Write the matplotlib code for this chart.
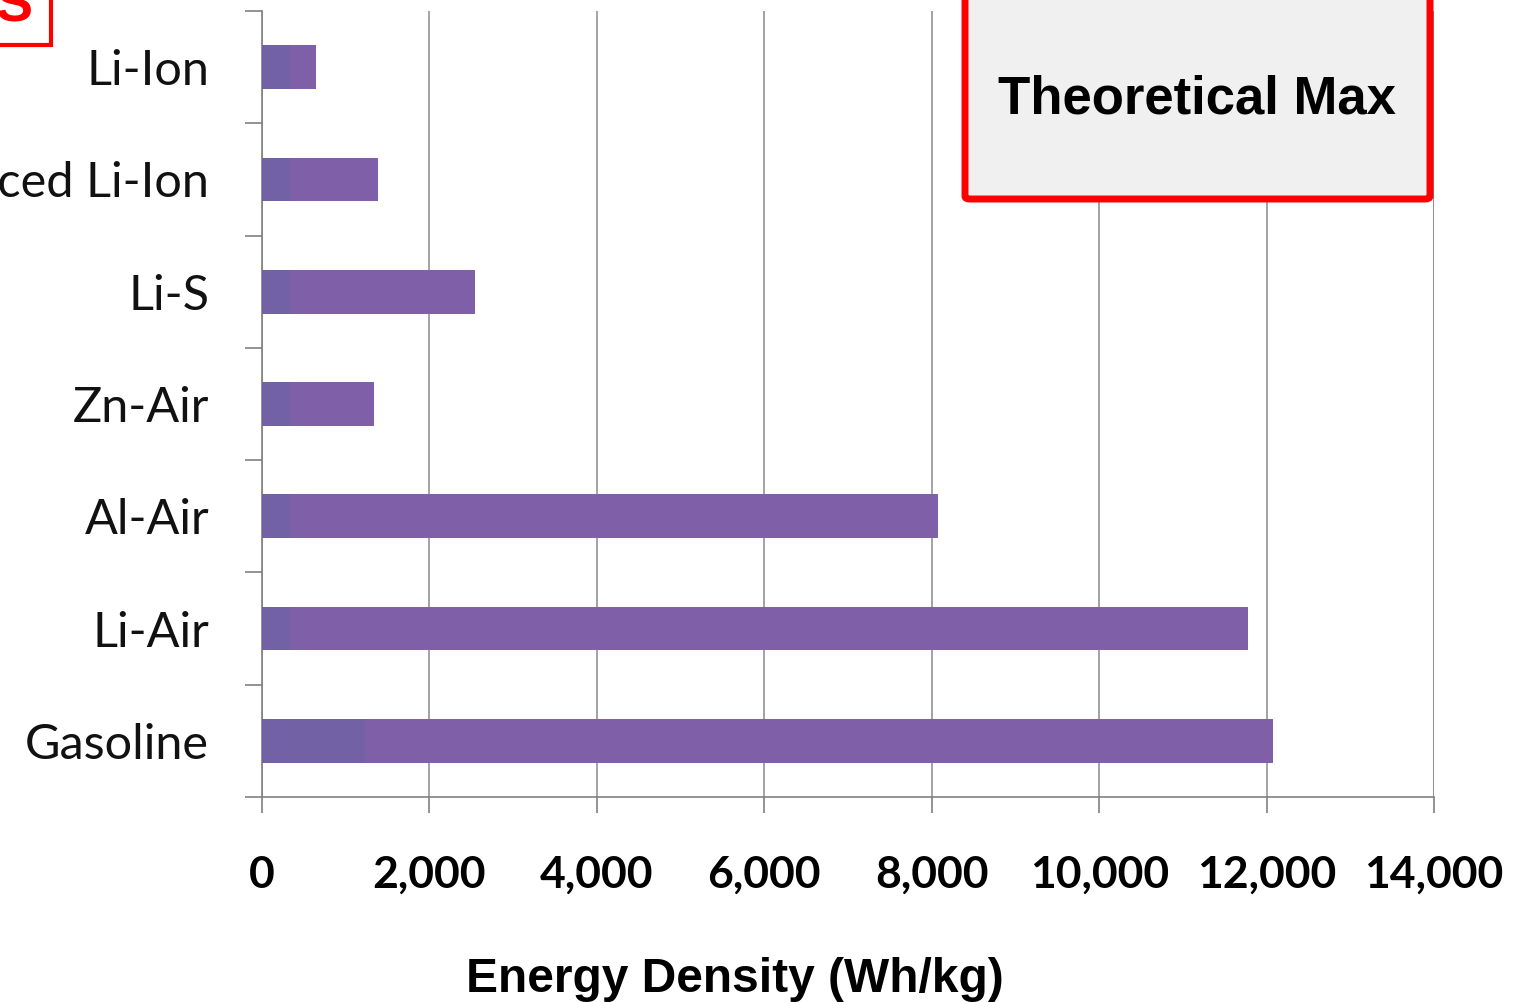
import matplotlib.pyplot as plt
from matplotlib.patches import FancyBboxPatch, Rectangle
import numpy as np

# === Daten ===
categories = ["Li-Ion", "Advanced Li-Ion", "Li-S", "Zn-Air", "Al-Air", "Li-Air", "Gasoline"]
theoretical_max = [650, 1390, 2550, 1340, 8080, 11780, 12080]
# faded overlay left over on the left end of each bar
practical = [330, 330, 330, 330, 330, 330, 1230]
x_ticks = [0, 2000, 4000, 6000, 8000, 10000, 12000, 14000]

W, H = 1523, 1002
fig = plt.figure(figsize=(W / 100, H / 100), dpi=100)
fig.patch.set_facecolor("white")

ax = fig.add_axes([262 / W, 1 - 797 / H, (1434 - 262) / W, (797 - 11) / H])
ypos = np.arange(len(categories))

ax.barh(ypos, theoretical_max, height=0.39, color="#7e5fa8", zorder=3)
ax.barh(ypos, practical, height=0.39, color="#7262a5", zorder=4)

ax.set_xlim(0, 14000)
ax.set_ylim(len(categories) - 0.5, -0.5)

ax.set_xticks(x_ticks)
ax.set_xticklabels([f"{v:,}" for v in x_ticks], family="Lato", fontweight="bold", fontsize=32)
ax.set_yticks(ypos)
ax.set_yticklabels(categories, family="Lato", fontsize=35, color="#111111")
ax.set_yticks(np.arange(-0.5, len(categories)), minor=True)

ax.tick_params(axis="y", which="major", length=0, pad=38)
ax.tick_params(axis="y", which="minor", length=12, width=1.2, color="#808080")
ax.tick_params(axis="x", which="major", length=11.5, width=1.2, color="#808080", pad=30)

ax.grid(axis="x", color="#8a8a8a", linewidth=1.1, zorder=0)
for s in ["top", "right"]:
    ax.spines[s].set_visible(False)
for s in ["left", "bottom"]:
    ax.spines[s].set_color("#808080")
    ax.spines[s].set_linewidth(1.2)
ax.axvline(14000, color="#8a8a8a", linewidth=1.1, zorder=0)

fig.text(735 / W, 1 - 992 / H, "Energy Density (Wh/kg)", family="Liberation Sans",
         fontweight="bold", fontsize=34.5, ha="center", va="baseline")

# Theoretical Max Kasten
box = FancyBboxPatch((965 / W, 1 - 199 / H), (1430 - 965) / W, 230 / H,
                     boxstyle="round,pad=0,rounding_size=0.003",
                     transform=fig.transFigure, facecolor="#f0f0f0",
                     edgecolor="#ff0000", linewidth=5, zorder=5)
fig.patches.append(box)
fig.text(1197 / W, 1 - 100 / H, "Theoretical Max", family="Liberation Sans",
         fontweight="bold", fontsize=38, ha="center", va="center", zorder=6)

# abgeschnittener roter Kasten oben links
sbox = Rectangle((-20 / W, 1 - 45 / H), 71 / W, 70 / H, transform=fig.transFigure,
                 facecolor="white", edgecolor="#ff0000", linewidth=3, zorder=5)
fig.patches.append(sbox)
fig.text(14 / W, 1 - 21 / H, "S", family="Liberation Sans", fontweight="bold",
         fontsize=40, color="#ff0000", ha="center", va="baseline", zorder=6)

fig.savefig("out.png", dpi=100)
